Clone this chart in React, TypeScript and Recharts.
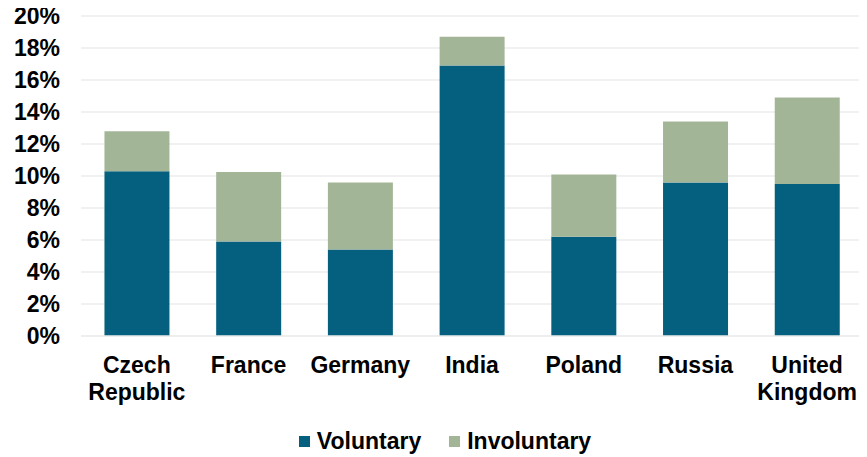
import React from 'react'
import { BarChart, Bar, XAxis, YAxis, CartesianGrid, Legend } from 'recharts'

const countries = ['Czech Republic', 'France', 'Germany', 'India', 'Poland', 'Russia', 'United Kingdom']
const voluntary = [10.3, 5.9, 5.4, 16.9, 6.2, 9.6, 9.5]
const involuntary = [2.5, 4.35, 4.2, 1.8, 3.9, 3.8, 5.4]
const yTicks = [0, 2, 4, 6, 8, 10, 12, 14, 16, 18, 20]

const VOL_COLOR = '#05607F'
const INV_COLOR = '#A3B597'
const FONT = '"Liberation Sans", Arial, sans-serif'

const data = countries.map((name, i) => ({
  name,
  voluntary: voluntary[i],
  involuntary: involuntary[i],
}))

function CountryTick(props: any) {
  const { x, y, payload } = props
  const words: string[] = String(payload.value).split(' ')
  return (
    <g>
      {words.map((w, i) => (
        <text
          key={i}
          x={x}
          y={y + 37 + i * 27}
          textAnchor="middle"
          fill="#000"
          fontFamily={FONT}
          fontWeight="bold"
          fontSize={23}
        >
          {w}
        </text>
      ))}
    </g>
  )
}

function LegendContent() {
  const items = [
    { label: 'Voluntary', color: VOL_COLOR },
    { label: 'Involuntary', color: INV_COLOR },
  ]
  return (
    <div
      style={{
        display: 'flex',
        justifyContent: 'center',
        alignItems: 'center',
        gap: 28,
        paddingTop: 11,
        paddingLeft: 27,
        fontFamily: FONT,
        fontWeight: 'bold',
        fontSize: 23,
        color: '#000',
      }}
    >
      {items.map((it) => (
        <div key={it.label} style={{ display: 'flex', alignItems: 'center' }}>
          <span style={{ width: 11, height: 11, background: it.color, marginRight: 7, display: 'inline-block' }} />
          <span>{it.label}</span>
        </div>
      ))}
    </div>
  )
}

export default function App() {
  return (
    <div style={{ margin: '-8px 0 0 -8px', width: 867, height: 457, background: '#fff' }}>
      <BarChart
        width={867}
        height={457}
        data={data}
        margin={{ top: 16, right: 4, left: 0, bottom: 0 }}
        barCategoryGap="21%"
      >
        <CartesianGrid vertical={false} stroke="#EDEDED" strokeWidth={1.5} />
        <XAxis
          dataKey="name"
          height={81}
          tickLine={false}
          axisLine={{ stroke: '#EDEDED', strokeWidth: 1.5 }}
          tickSize={0}
          tickMargin={0}
          interval={0}
          tick={<CountryTick />}
        />
        <YAxis
          width={81}
          domain={[0, 20]}
          ticks={yTicks}
          tickFormatter={(v: number) => `${v}%`}
          axisLine={false}
          tickLine={false}
          tickSize={0}
          tickMargin={21}
          tick={{ fill: '#000', fontFamily: FONT, fontWeight: 'bold', fontSize: 23 }}
        />
        <Legend verticalAlign="bottom" height={40} content={<LegendContent />} />
        <Bar dataKey="voluntary" stackId="a" fill={VOL_COLOR} isAnimationActive={false} />
        <Bar dataKey="involuntary" stackId="a" fill={INV_COLOR} isAnimationActive={false} />
      </BarChart>
    </div>
  )
}
